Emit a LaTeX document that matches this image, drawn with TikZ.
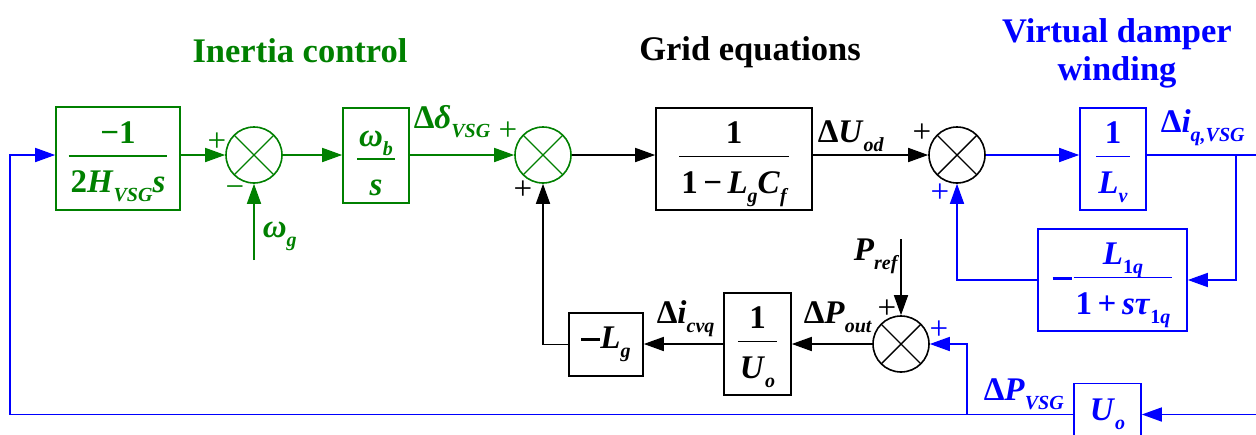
\documentclass[tikz,border=0pt]{standalone}
\usepackage{fontspec}
\setmainfont{Liberation Serif}
\usetikzlibrary{arrows.meta,calc}
\definecolor{vg}{RGB}{0,128,0}
\definecolor{vb}{RGB}{0,0,255}
\newcommand\vr[1]{\textbf{\textit{#1}}}
\newcommand\su[1]{\raisebox{-0.28em}{\fontsize{20}{20}\selectfont\bfseries\itshape #1}}
\newcommand\mn[1]{\rule[#1]{19pt}{3pt}}
\newcommand\frx[4]{{\renewcommand\arraystretch{0}\setlength\arrayrulewidth{1.5pt}%
\begin{tabular}{@{\hspace{2pt}}c@{\hspace{2pt}}}\raisebox{0pt}[#1][12pt]{#3}\\\hline\raisebox{0pt}[36pt][#2]{#4}\end{tabular}}}
\newcommand\fr[2]{\frx{24pt}{5pt}{#1}{#2}}
\begin{document}
\begin{tikzpicture}[x=1pt,y=-1pt,line width=1.6pt,
  >={Triangle[length=20pt,width=14pt]},
  font=\fontsize{33}{36}\selectfont\bfseries,
  box/.style={draw,inner sep=0pt},
  sumnode/.style={draw,circle,minimum size=56pt,inner sep=0pt,
    path picture={\draw[line width=1.4pt] (path picture bounding box.center) ++(45:28pt) -- ++(225:56pt)
      (path picture bounding box.center) ++(135:28pt) -- ++(-45:56pt);}},
  sgn/.style={inner sep=0pt,font=\fontsize{33}{33}\selectfont},
  lbl/.style={inner sep=0pt,anchor=base west},
  ttl/.style={inner sep=0pt,anchor=base,font=\fontsize{34.5}{36}\selectfont\bfseries}]
\useasboundingbox (0,0) rectangle (1256,434);

% titles
\node[ttl,vg] (t1) at (300,62) {Inertia control};
\node[ttl] (t2) at (750,60) {Grid equations};
\node[ttl,vb] (t3) at (1117,42) {Virtual damper};
\node[ttl,vb] (t4) at (1117,80) {winding};

% blocks
\node[box,vg,minimum width=124pt,minimum height=103pt] (b1) at (118,158.5) {\fr{−1}{2\vr{H}\su{VSG}\vr{s}}};
\node[sumnode,vg] (s1) at (254,155) {};
\node[box,vg,minimum width=66pt,minimum height=95pt] (b2) at (376,155.5) {\frx{31pt}{0pt}{\vr{ω}\su{b}}{\vr{s}}};
\node[sumnode,vg] (s2) at (543,155) {};
\node[box,minimum width=156pt,minimum height=102pt] (b3) at (734,159) {\fr{1}{1\,−\,\vr{L}\su{g}\vr{C}\su{f}}};
\node[sumnode] (s3) at (957,155) {};
\node[box,vb,minimum width=66pt,minimum height=102pt] (b4) at (1113,159) {\fr{1}{\vr{L}\su{v}}};
\node[box,vb,minimum width=149pt,minimum height=102pt] (b5) at (1112.5,280) {\mn{6pt}\hspace{2pt}\fr{\vr{L}\su{\textup{1}q}}{1\,+\,\vr{sτ}\su{\textup{1}q}}};
\node[sumnode] (s4) at (901,344) {};
\node[box,minimum width=67pt,minimum height=102pt] (b6) at (757.5,344) {\fr{1}{\vr{U}\su{o}}};
\node[box,minimum width=74pt,minimum height=63pt] (b7) at (606,344.5) {\mn{7.5pt}\vr{L}\su{g}};
\node[box,vb,minimum width=67pt,minimum height=62pt] (b8) at (1107.5,414.5) {\vr{U}\su{o}};

% free ends
\coordinate (wg) at (254,260);
\coordinate (pr) at (901,239);
\coordinate (rin) at (1256,414.5);
\coordinate (rout) at (1256,155);
\coordinate (br) at (1236,155);
\coordinate (bl) at (10,414.5);
\coordinate (bv) at (967,414.5);

% connectors
\draw[vb,->] (b8.west) -- (bl) -- (bl |- s1) -- (b1.west |- s1);
\draw[vg,->] (b1.east |- s1) -- (s1.west);
\draw[vg,->] (s1.east) -- (b2.west |- s1);
\draw[vg,->] (b2.east |- s2) -- (s2.west);
\draw[vg,->] (wg) -- (s1.south);
\draw[->] (s2.east) -- (b3.west |- s2);
\draw[->] (b3.east |- s3) -- (s3.west);
\draw[vb,->] (s3.east) -- (b4.west |- s3);
\draw[vb] (b4.east |- s3) -- (rout);
\draw[vb,->] (br) -- (br |- b5.east) -- (b5.east);
\draw[vb,->] (b5.west) -| (s3.south);
\draw[->] (pr) -- (s4.north);
\draw[->] (s4.west) -- (b6.east |- s4);
\draw[->] (b6.west) -- (b7.east |- b6.west);
\draw[->] (b7.west) -| (s2.south);
\draw[vb,->] (rin) -- (b8.east);
\draw[vb,->] (bv) |- (s4.east);

% signal labels
\node[lbl,vg] (ldd) at (413,128) {Δ\vr{δ}\su{VSG}};
\node[lbl,vg] (lwg) at (262,237) {\vr{ω}\su{g}};
\node[lbl] (luod) at (817,142) {Δ\vr{U}\su{od}};
\node[lbl,vb] (liq) at (1160,132) {Δ\vr{i}\su{q,VSG}};
\node[lbl] (lpr) at (853,260) {\vr{P}\su{ref}};
\node[lbl] (lpo) at (803,323) {Δ\vr{P}\su{out}};
\node[lbl] (lic) at (656,323) {Δ\vr{i}\su{cvq}};
\node[lbl,vb] (lpv) at (983,400) {Δ\vr{P}\su{VSG}};

% signs
\node[sgn,vg] (g1) at (217,142) {+};
\node[sgn,vg] (g2) at (235,192) {−};
\node[sgn,vg] (g3) at (508,131) {+};
\node[sgn] (g4) at (523,190) {+};
\node[sgn] (g5) at (922,133) {+};
\node[sgn,vb] (g6) at (940,193) {+};
\node[sgn] (g7) at (887,309) {+};
\node[sgn,vb] (g8) at (939,330) {+};
\end{tikzpicture}
\end{document}
